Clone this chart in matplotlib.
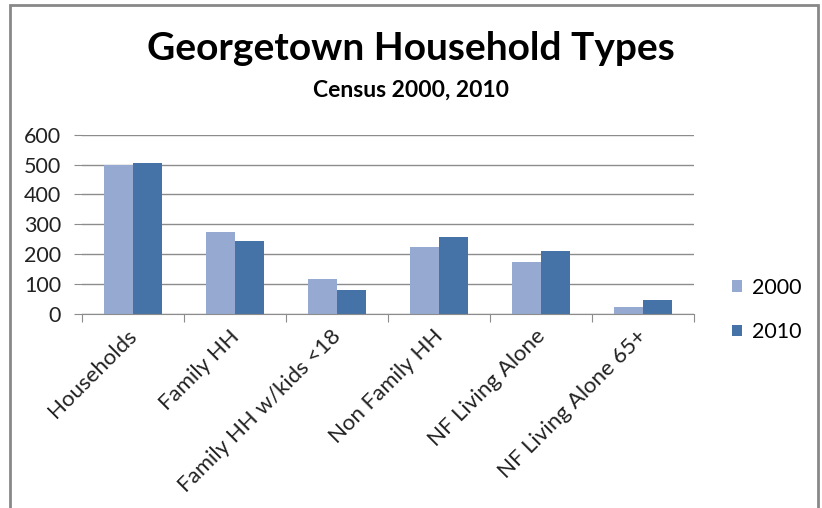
import matplotlib
matplotlib.use("Agg")
import matplotlib.pyplot as plt
from matplotlib.patches import Rectangle
import numpy as np

categories = ["Households", "Family HH", "Family HH w/kids <18",
              "Non Family HH", "NF Living Alone", "NF Living Alone 65+"]
years = ["2000", "2010"]
values_2000 = [498, 275, 116, 223, 173, 22]
values_2010 = [504, 245, 79, 256, 211, 46]
y_ticks = [0, 100, 200, 300, 400, 500, 600]

colors = ["#95a9d1", "#4572a7"]
plt.rcParams["font.family"] = ["Lato", "DejaVu Sans"]

fig = plt.figure(figsize=(8.22, 5.08), dpi=100)
ax = fig.add_axes([82 / 822, 1 - 313.7 / 508, 611.7 / 822, 179 / 508])

x = np.arange(len(categories))
w = 1 / 3.5
for i, (vals, c) in enumerate(zip([values_2000, values_2010], colors)):
    ax.bar(x + (i - 0.5) * w, vals, width=w, align="center", color=c,
           label=years[i], zorder=2, edgecolor="none")

ax.set_xlim(-0.5, len(categories) - 0.5)
ax.set_ylim(0, 600)
ax.set_yticks(y_ticks)
ax.set_yticklabels([str(v) for v in y_ticks], fontsize=15.5, color="#222222")
ax.grid(axis="y", color="#8c8c8c", linewidth=1, zorder=0)

# category boundary ticks
ax.set_xticks(np.arange(len(categories) + 1) - 0.5)
ax.set_xticklabels([])
ax.tick_params(axis="x", length=6, color="#8c8c8c", direction="out")
ax.tick_params(axis="y", length=6, color="#8c8c8c", direction="out", pad=9)
for i, name in enumerate(categories):
    ax.annotate(name, xy=(i, 0), xycoords=("data", "axes fraction"),
                xytext=(-4.5, -9), textcoords="offset points",
                rotation=45, ha="right", va="top", rotation_mode="anchor",
                fontsize=16, color="#222222")

for s in ["top", "right", "left"]:
    ax.spines[s].set_visible(False)
ax.spines["bottom"].set_color("#8c8c8c")

fig.text(411 / 822, 1 - 49 / 508, "Georgetown Household Types",
         ha="center", va="center", fontsize=28, fontweight="bold")
fig.text(411 / 822, 1 - 90 / 508, "Census 2000, 2010",
         ha="center", va="center", fontsize=16.5, fontweight="bold")

fig.legend(loc="center left", bbox_to_anchor=(713 / 822, 1 - 310 / 508),
           frameon=False, fontsize=15.5, handlelength=0.45,
           handleheight=0.45, handletextpad=0.45, labelspacing=1.15)

# outer chart frame
fig.patches.append(Rectangle((10 / 822, -0.05), 808 / 822, 1.05 - 5 / 508,
                             transform=fig.transFigure, fill=False,
                             edgecolor="#888888", linewidth=2))

fig.savefig("out.png", dpi=100)
